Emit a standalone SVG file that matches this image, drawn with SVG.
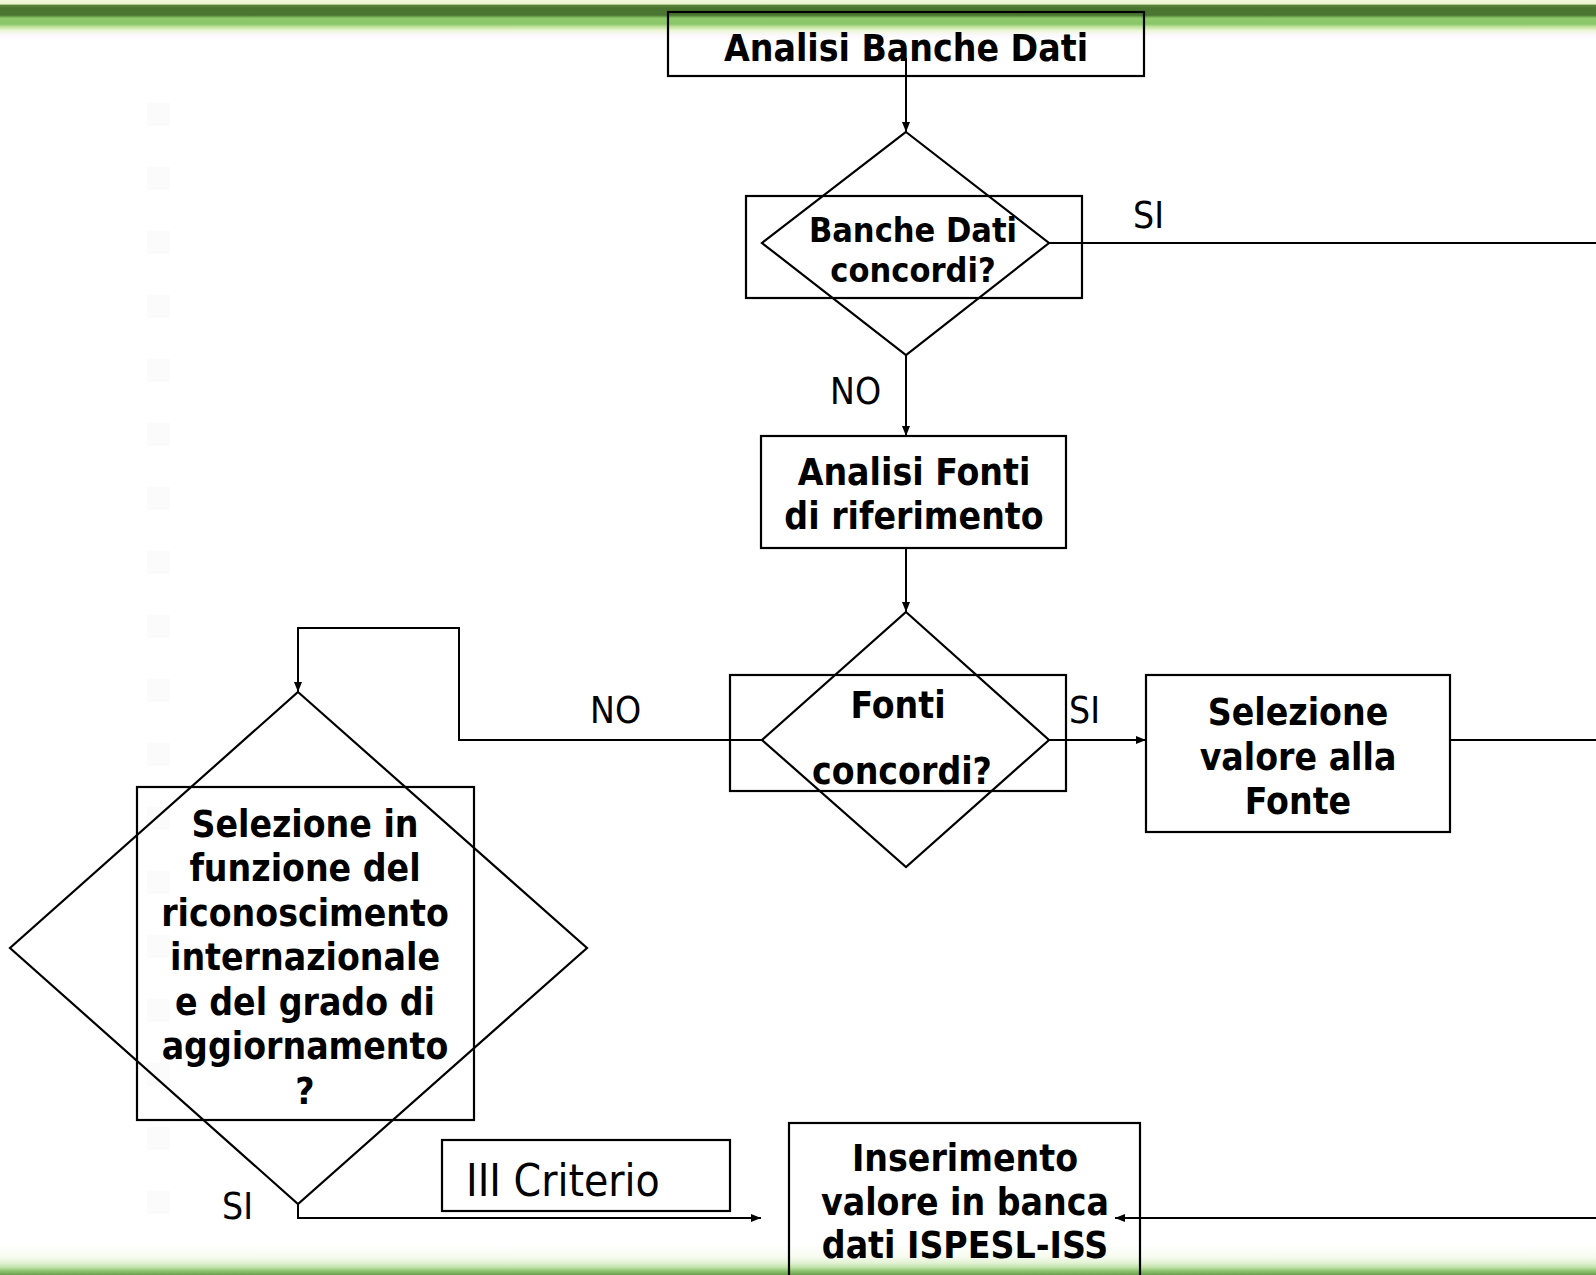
<svg xmlns="http://www.w3.org/2000/svg" xmlns:xlink="http://www.w3.org/1999/xlink" width="1596" height="1275" viewBox="0 0 1596 1275">
  <defs>
    <!-- green ribbon across the top edge -->
    <linearGradient id="topBand" x1="0" y1="0" x2="0" y2="1">
      <stop offset="0" stop-color="#f2f8dc"/>
      <stop offset="0.1" stop-color="#e9f3cf"/>
      <stop offset="0.13" stop-color="#5a8740"/>
      <stop offset="0.2" stop-color="#4a7530"/>
      <stop offset="0.38" stop-color="#4b7631"/>
      <stop offset="0.42" stop-color="#6fa651"/>
      <stop offset="0.46" stop-color="#8fcb6c"/>
      <stop offset="0.6" stop-color="#8ac668"/>
      <stop offset="0.66" stop-color="#b9df96"/>
      <stop offset="0.77" stop-color="#eef7d8"/>
      <stop offset="0.88" stop-color="#fcf8fd"/>
      <stop offset="1" stop-color="#ffffff"/>
    </linearGradient>
    <!-- green ribbon along the bottom edge -->
    <linearGradient id="bottomBand" x1="0" y1="0" x2="0" y2="1">
      <stop offset="0" stop-color="#ffffff"/>
      <stop offset="0.4" stop-color="#f7fbef"/>
      <stop offset="0.6" stop-color="#e2f2d2"/>
      <stop offset="0.75" stop-color="#bfe1a6"/>
      <stop offset="0.87" stop-color="#8dc26e"/>
      <stop offset="1" stop-color="#6a9e4e"/>
    </linearGradient>
    <marker id="arrow" viewBox="0 0 10 10" markerUnits="userSpaceOnUse" markerWidth="10" markerHeight="10" refX="10" refY="5" orient="auto">
      <path d="M0,1 L10,5 L0,9 z" fill="#000"/>
    </marker>
    <rect id="dot" width="23" height="23" fill="#fbfbfb"/>
  </defs>
  <style>
    .shape { fill: none; stroke: #000; stroke-width: 2.2; }
    .wire { fill: none; stroke: #000; stroke-width: 2; }
    .arrow { marker-end: url(#arrow); }
    text { font-family: "DejaVu Sans Condensed", "DejaVu Sans", sans-serif; fill: #000; }
    .b { font-weight: bold; font-size: 37px; text-anchor: middle; }
    .t { font-size: 37px; }
  </style>

  <!-- backdrop -->
  <rect x="0" y="0" width="1596" height="1275" fill="#ffffff"/>
  <rect x="0" y="0" width="1596" height="40" fill="url(#topBand)"/>
  <rect x="0" y="1245" width="1596" height="30" fill="url(#bottomBand)"/>
  <g id="backdrop-dots">
    <use xlink:href="#dot" x="147" y="103"/>
    <use xlink:href="#dot" x="147" y="167"/>
    <use xlink:href="#dot" x="147" y="231"/>
    <use xlink:href="#dot" x="147" y="295"/>
    <use xlink:href="#dot" x="147" y="359"/>
    <use xlink:href="#dot" x="147" y="423"/>
    <use xlink:href="#dot" x="147" y="487"/>
    <use xlink:href="#dot" x="147" y="551"/>
    <use xlink:href="#dot" x="147" y="615"/>
    <use xlink:href="#dot" x="147" y="679"/>
    <use xlink:href="#dot" x="147" y="743"/>
    <use xlink:href="#dot" x="147" y="807"/>
    <use xlink:href="#dot" x="147" y="871"/>
    <use xlink:href="#dot" x="147" y="935"/>
    <use xlink:href="#dot" x="147" y="999"/>
    <use xlink:href="#dot" x="147" y="1063"/>
    <use xlink:href="#dot" x="147" y="1127"/>
    <use xlink:href="#dot" x="147" y="1191"/>
  </g>

  <!-- connectors -->
  <g id="connectors">
    <path class="wire arrow" d="M906,58 V132"/>
    <path class="wire" d="M1049,243 H1596"/>
    <path class="wire arrow" d="M906,355 V436"/>
    <path class="wire arrow" d="M906,548 V612"/>
    <path class="wire arrow" d="M762,740 H459 V628 H298 V692"/>
    <path class="wire arrow" d="M1049,740 H1146"/>
    <path class="wire" d="M1450,740 H1596"/>
    <path class="wire arrow" d="M298,1204 V1218 H761"/>
    <path class="wire arrow" d="M1596,1218 H1115"/>
    <text class="t" x="1133" y="228">SI</text>
    <text class="t" x="830" y="404">NO</text>
    <text class="t" x="590" y="723">NO</text>
    <text class="t" x="1069" y="723">SI</text>
    <text class="t" x="222" y="1219">SI</text>
  </g>

  <!-- start: database analysis -->
  <g id="analisi-banche">
    <rect class="shape" x="668" y="12" width="476" height="64"/>
    <text class="b" x="906" y="61">Analisi Banche Dati</text>
  </g>

  <!-- decision: do the databases agree? -->
  <g id="banche-concordi">
    <polygon class="shape" points="906,132 1049,243 906,355 762,243"/>
    <rect class="shape" x="746" y="196" width="336" height="102"/>
    <text class="b" x="913" y="242" style="font-size:34px">Banche Dati</text>
    <text class="b" x="913" y="282" style="font-size:34px">concordi?</text>
  </g>

  <!-- reference sources analysis -->
  <g id="analisi-fonti">
    <rect class="shape" x="761" y="436" width="305" height="112"/>
    <text class="b" x="914" y="485">Analisi Fonti</text>
    <text class="b" x="914" y="529">di riferimento</text>
  </g>

  <!-- decision: do the sources agree? -->
  <g id="fonti-concordi">
    <polygon class="shape" points="906,612 1049,740 906,867 762,740"/>
    <rect class="shape" x="730" y="675" width="336" height="116"/>
    <text class="b" x="898" y="718">Fonti</text>
    <text class="b" x="902" y="784">concordi?</text>
  </g>

  <!-- pick value from the source -->
  <g id="selezione-fonte">
    <rect class="shape" x="1146" y="675" width="304" height="157"/>
    <text class="b" x="1298" y="725">Selezione</text>
    <text class="b" x="1298" y="770">valore alla</text>
    <text class="b" x="1298" y="814">Fonte</text>
  </g>

  <!-- decision: recognition and update level -->
  <g id="selezione-criterio">
    <polygon class="shape" points="298,692 587,948 298,1204 10,948"/>
    <rect class="shape" x="137" y="787" width="337" height="333"/>
    <text class="b" x="305" y="837">Selezione in</text>
    <text class="b" x="305" y="881">funzione del</text>
    <text class="b" x="305" y="926">riconoscimento</text>
    <text class="b" x="305" y="970">internazionale</text>
    <text class="b" x="305" y="1015">e del grado di</text>
    <text class="b" x="305" y="1059">aggiornamento</text>
    <text class="b" x="305" y="1104">?</text>
  </g>

  <!-- third criterion tag -->
  <g id="terzo-criterio">
    <rect class="shape" x="442" y="1140" width="288" height="71"/>
    <text class="t" x="466" y="1196" style="font-size:44px">III Criterio</text>
  </g>

  <!-- final insertion into the database -->
  <g id="inserimento">
    <rect class="shape" x="789" y="1123" width="351" height="170"/>
    <text class="b" x="965" y="1171">Inserimento</text>
    <text class="b" x="965" y="1215">valore in banca</text>
    <text class="b" x="965" y="1258">dati ISPESL-ISS</text>
  </g>
</svg>
